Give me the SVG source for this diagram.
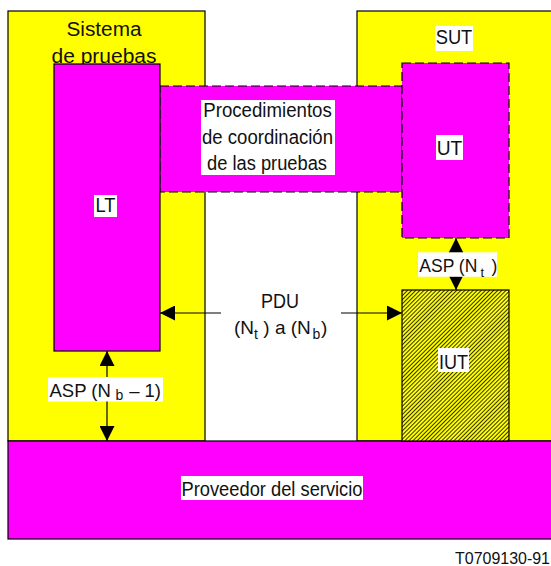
<svg xmlns="http://www.w3.org/2000/svg" width="551" height="566" viewBox="0 0 551 566">
<defs>
<style>
.box{stroke:#000;stroke-width:1.2}
.yel{fill:#ffff00}
.mag{fill:#ff00ff}
.dash{stroke-dasharray:9 4}
.t{font-family:"Liberation Sans",Arial,Helvetica,sans-serif;font-size:20px;fill:#111}
.m{text-anchor:middle}
.bg{fill:#fff}
.sub{font-size:14px}
.c{stroke:#000;stroke-width:1.2;fill:none}
</style>
<marker id="ah" viewBox="0 0 15 15" refX="15" refY="7.5" markerWidth="15" markerHeight="15" markerUnits="userSpaceOnUse" orient="auto-start-reverse"><path d="M0,0 L15,7.5 L0,15 z" fill="#000"/></marker>
<pattern id="hatch" patternUnits="userSpaceOnUse" width="2.9" height="2.9" patternTransform="rotate(45)"><rect width="2.9" height="2.9" fill="#ffff00"/><line x1="0.5" y1="0" x2="0.5" y2="2.9" stroke="#000" stroke-width="0.8"/></pattern>
</defs>
<rect width="551" height="566" fill="#fff"/>

<g id="sistema">
<rect class="box yel" x="8" y="11" width="197" height="430"/>
<text class="t m" x="104" y="36" textLength="75" lengthAdjust="spacingAndGlyphs">Sistema</text>
<text class="t m" x="104" y="62.5" textLength="105" lengthAdjust="spacingAndGlyphs">de pruebas</text>
</g>

<g id="sut">
<rect class="box yel" x="357" y="11" width="210" height="430"/>
<rect class="bg" x="435" y="26" width="38" height="25"/>
<text class="t m" x="454" y="43.5" textLength="36.6" lengthAdjust="spacingAndGlyphs">SUT</text>
</g>

<g id="proveedor">
<rect class="box mag" x="8" y="441" width="560" height="98"/>
<rect class="bg" x="181" y="476" width="182" height="24"/>
<text class="t m" x="272" y="495.7" textLength="181" lengthAdjust="spacingAndGlyphs">Proveedor del servicio</text>
</g>

<g id="coordinacion">
<rect class="box mag dash" x="160" y="86" width="242" height="106"/>
<rect class="bg" x="201" y="100" width="134" height="75"/>
<text class="t m" x="267.5" y="117.3" textLength="128.5" lengthAdjust="spacingAndGlyphs">Procedimientos</text>
<text class="t m" x="267.5" y="144" textLength="131" lengthAdjust="spacingAndGlyphs">de coordinación</text>
<text class="t m" x="267" y="170" textLength="120" lengthAdjust="spacingAndGlyphs">de las pruebas</text>
</g>

<g id="lt">
<rect class="box mag" x="54" y="64" width="106" height="287"/>
<rect class="bg" x="94" y="195" width="23" height="22"/>
<text class="t m" x="105.5" y="212" textLength="20" lengthAdjust="spacingAndGlyphs">LT</text>
</g>

<g id="ut">
<rect class="box mag dash" x="402" y="63" width="107" height="175"/>
<rect class="bg" x="436" y="135" width="27" height="25"/>
<text class="t m" x="449.5" y="155" textLength="25.6" lengthAdjust="spacingAndGlyphs">UT</text>
</g>

<g id="iut">
<rect class="box" fill="url(#hatch)" x="402" y="290" width="107" height="151"/>
<rect class="bg" x="438" y="348" width="31" height="24"/>
<text class="t m" x="453.5" y="369" textLength="29" lengthAdjust="spacingAndGlyphs">IUT</text>
</g>

<g id="connectors">
<line class="c" x1="221" y1="313" x2="160" y2="313" marker-end="url(#ah)"/>
<line class="c" x1="341" y1="313" x2="402" y2="313" marker-end="url(#ah)"/>
<line class="c" x1="107" y1="351" x2="107" y2="441" marker-start="url(#ah)" marker-end="url(#ah)"/>
<line class="c" x1="456" y1="238" x2="456" y2="290" marker-start="url(#ah)" marker-end="url(#ah)"/>

<text class="t m" x="280" y="308" textLength="38" lengthAdjust="spacingAndGlyphs">PDU</text>
<text class="t" style="font-size:19px"><tspan x="234" y="333.5">(N</tspan><tspan class="sub" x="254" y="339">t</tspan><tspan x="258" y="333.5"> ) a (N</tspan><tspan class="sub" x="312.5" y="339">b</tspan><tspan x="321" y="333.5">)</tspan></text>

<rect class="bg" x="48" y="377" width="115" height="24.5"/>
<text class="t" style="font-size:18.5px"><tspan x="49.5" y="396.5">ASP (N</tspan><tspan class="sub" x="115.5" y="399.5">b</tspan><tspan x="124" y="396.5"> – 1)</tspan></text>

<rect class="bg" x="418" y="252.3" width="79" height="24.5"/>
<text class="t" style="font-size:17.5px"><tspan x="419.3" y="271.7">ASP (N</tspan><tspan class="sub" style="font-size:13px" x="480.5" y="277">t</tspan><tspan x="491.5" y="271.7">)</tspan></text>
</g>

<text class="t" style="font-size:16px" x="455" y="564" textLength="95" lengthAdjust="spacingAndGlyphs">T0709130-91</text>
</svg>
